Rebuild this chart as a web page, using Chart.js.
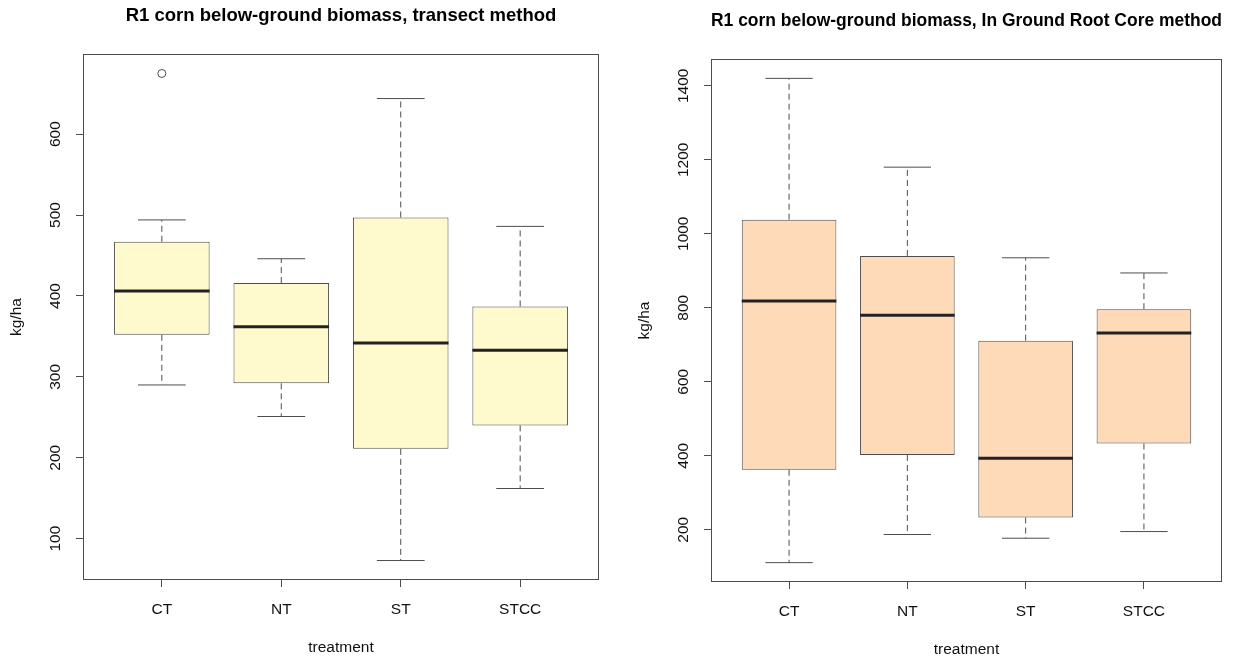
<!DOCTYPE html>
<html>
<head>
<meta charset="utf-8">
<title>R1 corn below-ground biomass</title>
<script src="https://cdn.jsdelivr.net/npm/chart.js@4.4.1/dist/chart.umd.min.js"></script>
<style>
  html, body { margin: 0; padding: 0; background: #ffffff; }
  #wrap { position: relative; width: 1250px; height: 658px; overflow: hidden; }
  .pane { position: absolute; top: 0; width: 625px; height: 658px; }
  canvas { display: block; }
</style>
</head>
<body>
<div id="wrap">
  <div class="pane" style="left:0px"><canvas id="transect" width="625" height="658"></canvas></div>
  <div class="pane" style="left:625px"><canvas id="rootcore" width="625" height="658"></canvas></div>
</div>
<script>
// Treatments shown on both panels
const treatments = ['CT', 'NT', 'ST', 'STCC'];

// Transect method (kg/ha): five-number summaries per treatment
const transectLow    = [290, 251, 73, 162];
const transectQ1     = [352, 292, 211, 240];
const transectMedian = [406, 362, 342, 333];
const transectQ3     = [467, 416, 497, 387];
const transectHigh   = [494, 446, 644, 486];
const transectOutliers = [[675], [], [], []];
const transectTicks  = [100, 200, 300, 400, 500, 600];

// In Ground Root Core method (kg/ha)
const coreLow    = [111, 187, 177, 195];
const coreQ1     = [362, 402, 233, 433];
const coreMedian = [818, 780, 393, 732];
const coreQ3     = [1038, 940, 711, 796];
const coreHigh   = [1420, 1180, 935, 894];
const coreOutliers = [[], [], [], []];
const coreTicks  = [200, 400, 600, 800, 1000, 1200, 1400];

const FONT = '"Liberation Sans", Arial, Helvetica, sans-serif';
const LABEL_SIZE = 15.5;
const TITLE_SIZE = 18.5;
const LINE = '#4d4d4d';
const MEDIAN = '#222222';
const TEXT = '#111111';

// Axis limits padded by 4% of the data range, like base R graphics
function paddedRange(lows, highs, outliers) {
  const all = lows.concat(highs, outliers.flat());
  const lo = Math.min(...all), hi = Math.max(...all);
  const pad = (hi - lo) * 0.04;
  return [lo - pad, hi + pad];
}

function makeBoxplot(canvasId, spec) {
  const W = 625, H = 658;
  const n = spec.categories.length;
  const [yMin, yMax] = paddedRange(spec.low, spec.high, spec.outliers);
  const xPad = 0.04 * n;
  const f = spec.frame;
  const labelLH = LABEL_SIZE * 1.2;
  const titleLH = TITLE_SIZE * 1.2;

  const outlierPoints = [];
  spec.outliers.forEach((vals, i) => vals.forEach(v => outlierPoints.push({ x: i + 1, y: v })));

  const boxParts = {
    id: 'boxParts',
    afterDatasetsDraw(chart) {
      const { ctx } = chart;
      const y = chart.scales.y;
      const bars = chart.getDatasetMeta(0).data;
      ctx.save();
      bars.forEach((bar, i) => {
        const x = bar.x;
        const half = bar.width / 2;
        const pLow = y.getPixelForValue(spec.low[i]);
        const pQ1 = y.getPixelForValue(spec.q1[i]);
        const pMed = y.getPixelForValue(spec.median[i]);
        const pQ3 = y.getPixelForValue(spec.q3[i]);
        const pHigh = y.getPixelForValue(spec.high[i]);
        // dashed whiskers
        ctx.strokeStyle = LINE;
        ctx.lineWidth = 1;
        ctx.setLineDash([6, 4]);
        ctx.beginPath();
        ctx.moveTo(x, pQ3); ctx.lineTo(x, pHigh);
        ctx.moveTo(x, pQ1); ctx.lineTo(x, pLow);
        ctx.stroke();
        // staples
        ctx.setLineDash([]);
        ctx.beginPath();
        ctx.moveTo(x - half / 2, pHigh); ctx.lineTo(x + half / 2, pHigh);
        ctx.moveTo(x - half / 2, pLow); ctx.lineTo(x + half / 2, pLow);
        ctx.stroke();
        // median bar
        ctx.strokeStyle = MEDIAN;
        ctx.lineWidth = 3;
        ctx.beginPath();
        ctx.moveTo(x - half, pMed); ctx.lineTo(x + half, pMed);
        ctx.stroke();
      });
      ctx.restore();
    },
    afterDraw(chart) {
      const { ctx, chartArea: a } = chart;
      const y = chart.scales.y;
      ctx.save();
      // plot frame
      ctx.strokeStyle = LINE;
      ctx.lineWidth = 1;
      ctx.strokeRect(a.left + 0.5, a.top + 0.5, a.right - a.left - 1, a.bottom - a.top - 1);
      // rotated y tick labels, reading upward
      ctx.fillStyle = TEXT;
      ctx.font = LABEL_SIZE + 'px ' + FONT;
      ctx.textAlign = 'center';
      ctx.textBaseline = 'middle';
      spec.ticks.forEach(v => {
        ctx.save();
        ctx.translate(a.left - 27.5, y.getPixelForValue(v));
        ctx.rotate(-Math.PI / 2);
        ctx.fillText(String(v), 0, 0);
        ctx.restore();
      });
      ctx.restore();
    }
  };

  return new Chart(document.getElementById(canvasId), {
    type: 'bar',
    data: {
      datasets: [
        {
          label: 'IQR',
          data: spec.categories.map((c, i) => ({ x: i + 1, y: [spec.q1[i], spec.q3[i]] })),
          backgroundColor: spec.fill,
          borderColor: LINE,
          borderWidth: 1,
          borderSkipped: false,
          barPercentage: 0.8,
          categoryPercentage: 1.0
        },
        {
          type: 'scatter',
          label: 'outliers',
          data: outlierPoints,
          pointStyle: 'circle',
          pointRadius: 4,
          pointBorderWidth: 1,
          pointBorderColor: LINE,
          pointBackgroundColor: 'rgba(0,0,0,0)'
        }
      ]
    },
    options: {
      responsive: false,
      animation: false,
      events: [],
      layout: { padding: { left: 0, right: W - f.right, top: 0, bottom: 0 } },
      plugins: {
        legend: { display: false },
        tooltip: { enabled: false },
        title: {
          display: true,
          text: spec.title,
          fullSize: false,
          color: '#000000',
          font: { family: FONT, size: TITLE_SIZE, weight: 'bold', lineHeight: 1.2 },
          padding: { top: spec.titleMid - titleLH / 2, bottom: f.top - (spec.titleMid + titleLH / 2) }
        }
      },
      scales: {
        x: {
          type: 'linear',
          min: 0.5 - xPad,
          max: n + 0.5 + xPad,
          offset: false,
          afterFit: s => { s.height = H - f.bottom; },
          afterBuildTicks: s => { s.ticks = spec.categories.map((c, i) => ({ value: i + 1 })); },
          grid: { display: true, offset: false, drawOnChartArea: false, drawTicks: true, tickLength: 7, tickColor: LINE, tickWidth: 1 },
          border: { display: false },
          ticks: {
            color: TEXT,
            font: { family: FONT, size: LABEL_SIZE, lineHeight: 1.2 },
            padding: 13.2,
            maxRotation: 0,
            minRotation: 0,
            autoSkip: false,
            callback: v => spec.categories[Math.round(v) - 1]
          },
          title: {
            display: true,
            text: 'treatment',
            color: TEXT,
            font: { family: FONT, size: LABEL_SIZE, lineHeight: 1.2 },
            padding: { top: 0, bottom: H - (f.bottom + 67.5) - labelLH / 2 }
          }
        },
        y: {
          type: 'linear',
          min: yMin,
          max: yMax,
          afterFit: s => { s.width = f.left; },
          afterBuildTicks: s => { s.ticks = spec.ticks.map(v => ({ value: v })); },
          grid: { display: true, drawOnChartArea: false, drawTicks: true, tickLength: 7, tickColor: LINE, tickWidth: 1 },
          border: { display: false },
          ticks: { display: false },
          title: {
            display: true,
            text: 'kg/ha',
            color: TEXT,
            font: { family: FONT, size: LABEL_SIZE, lineHeight: 1.2 },
            padding: { top: f.left - 66 - labelLH / 2, bottom: 0 }
          }
        }
      }
    },
    plugins: [boxParts]
  });
}

makeBoxplot('transect', {
  title: 'R1 corn below-ground biomass, transect method',
  categories: treatments,
  low: transectLow, q1: transectQ1, median: transectMedian, q3: transectQ3, high: transectHigh,
  outliers: transectOutliers,
  ticks: transectTicks,
  fill: '#FFFACD',
  frame: { left: 83, right: 599, top: 54, bottom: 580 },
  titleMid: 16.3
});

makeBoxplot('rootcore', {
  title: 'R1 corn below-ground biomass, In Ground Root Core method',
  categories: treatments,
  low: coreLow, q1: coreQ1, median: coreMedian, q3: coreQ3, high: coreHigh,
  outliers: coreOutliers,
  ticks: coreTicks,
  fill: '#FFDAB9',
  frame: { left: 86, right: 597, top: 59, bottom: 582 },
  titleMid: 21.3
});
</script>
</body>
</html>
